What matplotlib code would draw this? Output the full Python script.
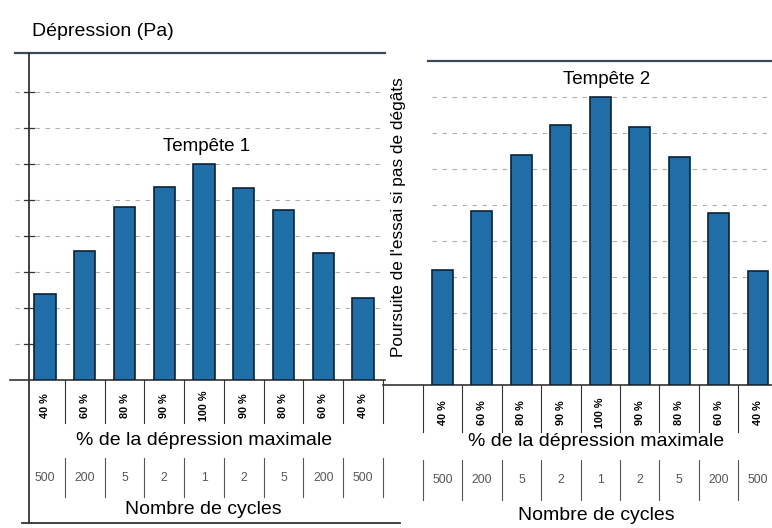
import matplotlib
matplotlib.use("Agg")
import matplotlib.pyplot as plt

plt.rcParams["font.family"] = ["Liberation Sans", "DejaVu Sans"]

# values (same arbitrary pressure unit for both storms)
pct_labels = ["40 %", "60 %", "80 %", "90 %", "100 %", "90 %", "80 %", "60 %", "40 %"]
cycles = ["500", "200", "5", "2", "1", "2", "5", "200", "500"]
tempete1 = [2.39, 3.58, 4.81, 5.36, 6.0, 5.33, 4.72, 3.53, 2.28]
tempete2 = [3.19, 4.83, 6.39, 7.22, 8.0, 7.17, 6.33, 4.78, 3.17]

W, H = 772, 528
BAR_COLOR = "#1f6ea8"
EDGE_COLOR = "#0c2236"
LINE_COLOR = "#333333"
GRID_COLOR = "#b0b0b0"

fig = plt.figure(figsize=(W / 100, H / 100), dpi=100)


def make_axes(x0, x1, y_top, y_base, c0, step, ymax):
    # x0/x1, y_top/y_base are pixel positions in the image
    ax = fig.add_axes([x0 / W, 1 - y_base / H, (x1 - x0) / W, (y_base - y_top) / H])
    ax.set_xlim((x0 - c0) / step, (x1 - c0) / step)
    ax.set_ylim(0, ymax)
    ax.axis("off")
    return ax


def px_x(px, c0, step):
    return (px - c0) / step


def px_y(py, base, unit):
    return (base - py) / unit


# ---------------- Tempête 1 ----------------
c0, step, base, unit = 45, 39.75, 380, 36
ax1 = make_axes(10, 400, 53, base, c0, step, 9.08)
x = list(range(len(tempete1)))

for k in range(1, 9):
    ax1.plot([px_x(15, c0, step), px_x(380, c0, step)], [k, k],
             color=GRID_COLOR, lw=0.8, ls=(0, (4, 5)), zorder=1)
    ax1.plot([px_x(24, c0, step), px_x(34, c0, step)], [k, k],
             color=LINE_COLOR, lw=0.9, zorder=2)
ax1.bar(x, tempete1, width=0.53, color=BAR_COLOR, edgecolor=EDGE_COLOR, lw=1.2, zorder=3)

ax1.plot([px_x(15, c0, step), px_x(385, c0, step)], [9.08, 9.08], color="#3c4a58", lw=1.6, clip_on=False)
ax1.plot([px_x(10, c0, step), px_x(385, c0, step)], [0, 0], color=LINE_COLOR, lw=1.2, clip_on=False)
ax1.plot([px_x(29, c0, step)] * 2, [9.08, px_y(523, base, unit)], color=LINE_COLOR, lw=1.3, clip_on=False)
ax1.plot([px_x(22, c0, step), px_x(400, c0, step)], [px_y(523, base, unit)] * 2,
         color=LINE_COLOR, lw=1.3, clip_on=False)

for i, lab in enumerate(pct_labels):
    ax1.text(i, px_y(406, base, unit), lab, rotation=90, ha="center", va="center",
             fontsize=7.8, fontweight="bold", clip_on=False)
    ax1.plot([i + 0.5] * 2, [0, px_y(423, base, unit)], color=LINE_COLOR, lw=0.8, clip_on=False)
    ax1.text(i, px_y(478, base, unit), cycles[i], ha="center", va="center",
             fontsize=8.8, color="#555555", clip_on=False)
    ax1.plot([i + 0.5] * 2, [px_y(458, base, unit), px_y(497, base, unit)],
             color="#555555", lw=0.8, clip_on=False)

ax1.text(px_x(204, c0, step), px_y(440, base, unit), "% de la dépression maximale",
         ha="center", va="center", fontsize=14, clip_on=False)
ax1.text(px_x(203, c0, step), px_y(509, base, unit), "Nombre de cycles",
         ha="center", va="center", fontsize=14, clip_on=False)
ax1.text(px_x(207, c0, step), px_y(147, base, unit), "Tempête 1", ha="center", va="center",
         fontsize=13.5)

# ---------------- Tempête 2 ----------------
c0, step, base, unit = 442.5, 39.44, 385, 36
ax2 = make_axes(383, 772, 61, base, c0, step, 9.0)
x = list(range(len(tempete2)))

for k in range(1, 9):
    ax2.plot([px_x(432, c0, step), px_x(772, c0, step)], [k, k],
             color=GRID_COLOR, lw=0.8, ls=(0, (4, 5)), zorder=1)
ax2.bar(x, tempete2, width=0.53, color=BAR_COLOR, edgecolor=EDGE_COLOR, lw=1.2, zorder=3)

ax2.plot([px_x(428, c0, step), px_x(772, c0, step)], [9.0, 9.0], color="#3c4a58", lw=1.6, clip_on=False)
ax2.plot([px_x(383, c0, step), px_x(772, c0, step)], [0, 0], color=LINE_COLOR, lw=1.2, clip_on=False)

ax2.plot([-0.5, -0.5], [0, px_y(432, base, unit)], color=LINE_COLOR, lw=0.8, clip_on=False)
ax2.plot([-0.5, -0.5], [px_y(460, base, unit), px_y(500, base, unit)],
         color="#555555", lw=0.8, clip_on=False)
for i, lab in enumerate(pct_labels):
    ax2.text(i, px_y(413, base, unit), lab, rotation=90, ha="center", va="center",
             fontsize=7.8, fontweight="bold", clip_on=False)
    ax2.text(i, px_y(480, base, unit), cycles[i], ha="center", va="center",
             fontsize=8.8, color="#555555", clip_on=False)
    if i < len(pct_labels) - 1:
        ax2.plot([i + 0.5] * 2, [0, px_y(432, base, unit)], color=LINE_COLOR, lw=0.8, clip_on=False)
        ax2.plot([i + 0.5] * 2, [px_y(460, base, unit), px_y(500, base, unit)],
                 color="#555555", lw=0.8, clip_on=False)

ax2.text(px_x(596, c0, step), px_y(441, base, unit), "% de la dépression maximale",
         ha="center", va="center", fontsize=14, clip_on=False)
ax2.text(px_x(596, c0, step), px_y(516, base, unit), "Nombre de cycles",
         ha="center", va="center", fontsize=14, clip_on=False)
ax2.text(px_x(607, c0, step), px_y(80, base, unit), "Tempête 2", ha="center", va="center",
         fontsize=13.5, clip_on=False)

# ---------------- free texts ----------------
fig.text(32 / W, 1 - 32 / H, "Dépression (Pa)", ha="left", va="center", fontsize=14)
fig.text(399 / W, 1 - 217 / H, "Poursuite de l'essai si pas de dégâts", rotation=90,
         ha="center", va="center", fontsize=12.4)

fig.savefig("out.png", dpi=100)
